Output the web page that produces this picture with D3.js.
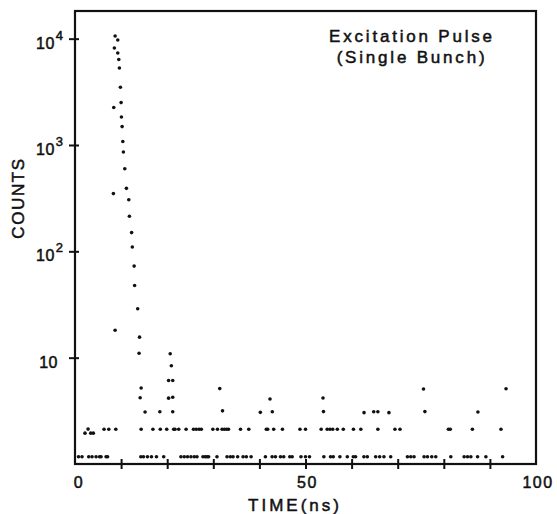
<!DOCTYPE html>
<html><head><meta charset="utf-8">
<script src="https://cdn.jsdelivr.net/npm/d3@7/dist/d3.min.js"></script>
<style>body{margin:0;background:#fff}text{font-family:"Liberation Sans",Arial,sans-serif;fill:#111;stroke:#111;stroke-width:0.5px}</style>
</head><body><svg id="c" width="557" height="514"></svg>
<script>
// Main excitation peak (time in ns, counts)
const peakTime   = [8.7, 9.28, 8.54, 9.28, 9.5, 9.63, 9.85, 10.0, 8.41, 10.07, 10.22, 10.37, 10.5, 10.8, 11.15, 8.33, 11.67, 11.8, 12.28, 12.43, 12.83, 12.93, 13.6, 8.7, 14.0, 13.9, 14.35, 14.13, 15.2];
const peakCounts = [10600, 9720, 8180, 7340, 6360, 5300, 3490, 2505, 2250, 1833, 1490, 1077, 860, 598, 391, 349, 306, 214, 150, 110, 72.6, 47.7, 28.8, 18.1, 15.6, 11.0, 5.18, 4.2, 3.08];
// Satellite / afterpulse points
const satTime    = [18.4, 20.65, 20.9, 20.3, 21.2, 20.3, 21.2, 21.2, 31.4, 32.0, 40.2, 42.3, 42.8, 53.8, 53.9, 62.7, 64.8, 65.7, 68.1, 75.6, 75.9, 87.4, 93.5];
const satCounts  = [3.1, 10.9, 8.4, 6.1, 6.1, 4.16, 4.25, 3.1, 5.12, 3.16, 3.06, 4.08, 3.1, 4.18, 3.11, 3.04, 3.1, 3.1, 3.04, 5.08, 3.11, 3.08, 5.1];
// Second background level
const level2Time   = [2.17, 2.83, 3.41, 3.98, 6.3, 7.33, 8.85, 14.35, 16.9, 18.5, 19.9, 21.4, 21.7, 22.5, 24.1, 25.7, 26.3, 26.9, 27.4, 29.9, 30.9, 31.9, 32.4, 32.9, 33.3, 35.9, 37.7, 41.5, 41.8, 43.1, 45.0, 48.8, 50.0, 53.4, 54.7, 55.3, 55.9, 56.9, 58.2, 60.4, 62.0, 65.7, 69.4, 70.5, 81.0, 81.4, 86.2, 92.4];
const level2Counts = [1.95, 2.13, 1.95, 1.95, 2.12, 2.12, 2.12, 2.12, 2.12, 2.12, 2.12, 2.12, 2.12, 2.12, 2.12, 2.12, 2.12, 2.12, 2.12, 2.12, 2.12, 2.12, 2.12, 2.12, 2.12, 2.12, 2.12, 2.12, 2.12, 2.12, 2.12, 2.12, 2.12, 2.12, 2.12, 2.12, 2.12, 2.12, 2.12, 2.12, 2.12, 2.12, 2.12, 2.12, 2.12, 2.12, 2.12, 2.12];
// Lowest background level
const level1Time   = [0.76, 1.52, 2.98, 3.7, 4.57, 5.33, 5.65, 6.74, 7.07, 14.28, 14.85, 15.72, 16.59, 17.67, 19.24, 22.98, 23.7, 24.41, 25.15, 25.87, 26.46, 27.76, 28.26, 28.63, 28.98, 30.8, 32.98, 33.7, 34.28, 35.28, 36.46, 37.17, 38.2, 41.3, 42.76, 43.48, 44.57, 45.28, 46.59, 47.11, 49.02, 50.0, 50.87, 53.98, 55.43, 56.02, 57.46, 59.07, 60.37, 60.87, 62.67, 63.41, 65.22, 66.09, 67.02, 68.48, 72.11, 72.83, 73.54, 75.72, 76.46, 77.39, 78.26, 81.52, 84.41, 85.15, 85.87, 87.33, 89.13, 92.76];
const level1Counts = level1Time.map(() => 1.17);

const xTicks = [10, 20, 30, 40, 50, 60, 70, 80, 90];
const xLabels = [0, 50, 100];
const yTicks = [10, 100, 1000, 10000];
const titleLines = ["Excitation Pulse", "(Single Bunch)"];

const svg = d3.select("#c");
const x = d3.scaleLinear().domain([0, 100]).range([75, 536]);
const y = d3.scaleLog().domain([1, 18200]).range([464, 11]);

// frame
svg.append("rect").attr("x", x(0)).attr("y", y(18200)).attr("width", x(100) - x(0)).attr("height", y(1) - y(18200))
  .attr("fill", "none").attr("stroke", "#111").attr("stroke-width", 2.2);

// x ticks
const gx = svg.append("g").attr("transform", `translate(0,${y(1)})`)
  .call(d3.axisBottom(x).tickValues(xTicks).tickSize(5).tickFormat(""));
gx.select(".domain").remove();
gx.selectAll(".tick line").attr("y1", -5).attr("y2", 5).attr("stroke", "#111").attr("stroke-width", 2);

// y ticks
const gy = svg.append("g").attr("transform", `translate(${x(0)},0)`)
  .call(d3.axisLeft(y).tickValues(yTicks).tickSize(5).tickFormat(""));
gy.select(".domain").remove();
gy.selectAll(".tick line").attr("x1", 4).attr("x2", -6).attr("stroke", "#111").attr("stroke-width", 2);

// x labels
svg.selectAll(".xl").data(xLabels).join("text").attr("class", "xl")
  .attr("x", d => x(d) + (d === 0 ? 4 : 2)).attr("y", 488)
  .attr("text-anchor", "middle").attr("font-size", 16).attr("letter-spacing", 1.5).text(d => d);

// y labels
yTicks.forEach(v => {
  const e = Math.round(Math.log10(v));
  const yy = y(v);
  if (e === 1) {
    svg.append("text").attr("x", 58).attr("y", yy + 10).attr("text-anchor", "end")
      .attr("font-size", 16).attr("letter-spacing", 0.5).text("10");
  } else {
    const t = svg.append("text").attr("x", 36).attr("y", yy + 10).attr("font-size", 16).attr("letter-spacing", 0.5);
    t.append("tspan").text("10");
    t.append("tspan").attr("dx", 1).attr("dy", -9).attr("font-size", 13).text(e);
  }
});

// axis titles
svg.append("text").attr("x", 295).attr("y", 511).attr("text-anchor", "middle")
  .attr("font-size", 17).attr("letter-spacing", 3).text("TIME(ns)");
svg.append("text").attr("transform", "translate(24,198) rotate(-90)").attr("text-anchor", "middle")
  .attr("font-size", 17).attr("letter-spacing", 1.6).text("COUNTS");

// annotation
svg.selectAll(".ann").data(titleLines).join("text").attr("class", "ann")
  .attr("x", 412).attr("y", (d, i) => 42 + i * 21).attr("text-anchor", "middle")
  .attr("font-size", 17).attr("letter-spacing", 2.8).text(d => d);

// dots
const series = [
  [peakTime, peakCounts], [satTime, satCounts], [level2Time, level2Counts], [level1Time, level1Counts]
];
series.forEach(([ts, cs], k) => {
  svg.append("g").selectAll("circle").data(ts.map((t, i) => [t, cs[i]])).join("circle")
    .attr("cx", d => x(d[0])).attr("cy", d => y(d[1])).attr("r", 1.8).attr("fill", "#111");
});
</script></body></html>
